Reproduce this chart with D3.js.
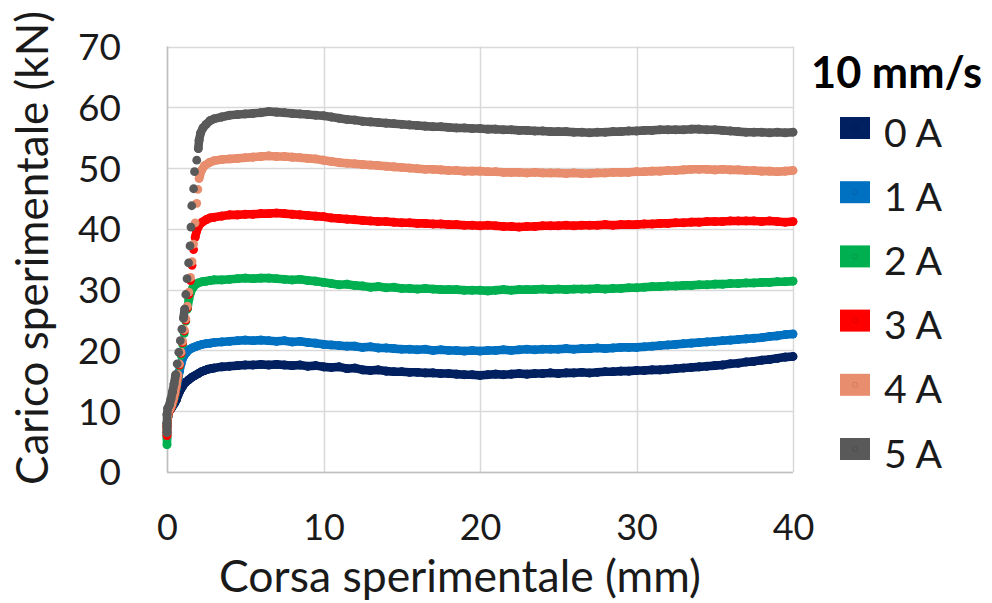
<!DOCTYPE html>
<html><head><meta charset="utf-8">
<script src="https://cdn.jsdelivr.net/npm/d3@7"></script>
<style>
html,body{margin:0;padding:0;background:#fff;}
svg{display:block;font-family:Lato,"Open Sans",sans-serif;}
</style></head>
<body>
<svg id="chart" width="992" height="603"></svg>
<script>
// ---- data ----
const seriesNames = ["0 A","1 A","2 A","3 A","4 A","5 A"];
const seriesColors = ["#002060","#0070C0","#00B050","#FF0000","#E88D6D","#595959"];
const legendTitle = "10 mm/s";
const xTicks = [0,10,20,30,40];
const yTicks = [0,10,20,30,40,50,60,70];
const xTitle = "Corsa sperimentale (mm)";
const yTitle = "Carico sperimentale (kN)";

// initial loading ramp, [corsa mm, carico kN]
const ramp0A = [[0,6.5],[0,8],[0.05,9],[0.1,9.8],[0.2,10.2],[0.3,10.6],[0.4,11],[0.5,11.4],[0.6,11.9],[0.7,12.6],[0.8,13.2],[0.9,13.7],[1.0,14.1],[1.2,14.8],[1.4,15.2],[1.6,15.6],[1.8,15.9],[2.0,16.2],[2.2,16.5],[2.4,16.7],[2.6,16.9],[2.8,17.0]];
const ramp1A = [[0,5.5],[0,7.5],[0.05,9],[0.1,9.8],[0.2,10.3],[0.3,10.8],[0.4,11.6],[0.5,12.6],[0.6,13.8],[0.7,15.2],[0.8,16.6],[0.9,17.8],[1.0,18.7],[1.1,19.2],[1.25,19.7],[1.4,20.1],[1.6,20.4],[1.8,20.6],[2.0,20.8],[2.25,21.0],[2.5,21.1],[2.75,21.2]];
const ramp2A = [[0,4.5],[0,6],[0,7.5],[0.05,9],[0.1,9.8],[0.2,10.3],[0.3,10.8],[0.4,11.6],[0.5,12.6],[0.6,14],[0.7,15.6],[0.8,17.4],[0.9,19.2],[1.0,21],[1.1,22.8],[1.2,24.8],[1.3,26.8],[1.4,28.4],[1.5,29.5],[1.65,30.3],[1.8,30.8],[2.0,31.1],[2.25,31.3],[2.5,31.4],[2.75,31.5]];
const ramp3A = [[0,6],[0,7.5],[0.05,9],[0.1,9.8],[0.2,10.3],[0.3,10.9],[0.4,11.8],[0.5,12.8],[0.6,14.2],[0.7,15.8],[0.8,17.6],[0.9,19.5],[1.0,21.3],[1.1,23.2],[1.2,25],[1.3,27],[1.4,29.2],[1.5,31.5],[1.6,34],[1.7,36.6],[1.8,38.6],[1.9,39.7],[2.05,40.6],[2.25,41.1],[2.5,41.5],[2.75,41.8]];
const ramp4A = [[0,6.5],[0,8],[0.05,9.3],[0.1,10],[0.2,10.5],[0.3,11.1],[0.4,12],[0.5,13],[0.6,14.4],[0.7,16],[0.8,17.8],[0.9,19.7],[1.0,21.5],[1.1,23.4],[1.2,25.2],[1.3,27.3],[1.4,29.6],[1.5,32],[1.6,34.6],[1.7,37.5],[1.8,41],[1.9,44.2],[1.97,46.5],[2.05,48.3],[2.2,49.6],[2.4,50.4],[2.7,50.9]];
const ramp5A = [[0,6.5],[0,8],[0,9.5],[0.05,10.5],[0.15,11],[0.25,12],[0.35,13.2],[0.45,14.5],[0.55,16],[0.65,17.8],[0.75,19.7],[0.85,21.6],[0.95,23.5],[1.05,25.3],[1.13,26.8],[1.2,29.2],[1.28,31.8],[1.38,34.4],[1.47,37.2],[1.53,40.3],[1.58,43.8],[1.7,46.6],[1.76,49.4],[1.9,51.3],[2.0,53.2],[2.05,54.6],[2.15,55.8],[2.3,56.6],[2.5,57.2],[2.75,57.8]];

// plateau: corsa (mm) shared, carico (kN) per series
const corsaPlateau = [3,3.5,4,4.5,5,5.5,6,6.5,7,7.5,8,8.5,9,9.5,10,10.5,11,11.5,12,12.5,13,13.5,14,14.5,15,15.5,16,16.5,17,17.5,18,18.5,19,19.5,20,20.5,21,21.5,22,22.5,23,23.5,24,24.5,25,25.5,26,26.5,27,27.5,28,28.5,29,29.5,30,30.5,31,31.5,32,32.5,33,33.5,34,34.5,35,35.5,36,36.5,37,37.5,38,38.5,39,39.5,40];
const carico0A = [17.1,17.3,17.4,17.5,17.6,17.6,17.7,17.6,17.7,17.6,17.5,17.6,17.4,17.5,17.3,17.2,17.3,17.0,17.1,16.8,16.7,16.8,16.6,16.5,16.5,16.4,16.4,16.3,16.3,16.2,16.2,16.1,16.0,16.0,15.9,16.0,16.1,16.0,16.1,16.2,16.1,16.2,16.2,16.3,16.2,16.3,16.3,16.4,16.3,16.4,16.5,16.5,16.6,16.6,16.7,16.7,16.8,16.8,16.9,17.0,17.1,17.2,17.3,17.4,17.5,17.6,17.8,17.9,18.1,18.2,18.4,18.5,18.7,18.9,19.0];
const carico1A = [21.3,21.4,21.5,21.6,21.7,21.6,21.7,21.6,21.5,21.6,21.4,21.5,21.3,21.2,21.0,20.9,20.8,20.7,20.7,20.5,20.6,20.4,20.4,20.3,20.2,20.2,20.1,20.2,20.0,20.1,20.0,20.0,19.9,20.0,19.9,20.0,20.0,20.1,20.0,20.1,20.2,20.1,20.2,20.2,20.2,20.3,20.2,20.3,20.3,20.4,20.3,20.4,20.5,20.5,20.5,20.6,20.7,20.8,20.9,21.0,21.1,21.2,21.3,21.4,21.5,21.6,21.7,21.8,21.9,22.0,22.1,22.3,22.4,22.6,22.7];
const carico2A = [31.6,31.6,31.7,31.8,31.9,31.8,31.9,31.9,31.8,31.7,31.6,31.7,31.5,31.4,31.2,31.0,30.8,30.9,30.7,30.6,30.4,30.5,30.3,30.4,30.2,30.2,30.1,30.2,30.1,30.0,30.0,30.0,29.9,29.9,29.9,29.8,29.9,30.0,29.9,30.0,30.0,30.0,30.1,30.0,30.1,30.0,30.1,30.1,30.1,30.2,30.1,30.2,30.2,30.3,30.3,30.4,30.5,30.5,30.6,30.6,30.7,30.7,30.8,30.8,30.9,30.9,31.0,31.0,31.1,31.1,31.2,31.2,31.3,31.3,31.4];
const carico3A = [41.9,42.1,42.3,42.3,42.4,42.4,42.5,42.5,42.6,42.5,42.4,42.3,42.2,42.1,42.0,41.8,41.7,41.6,41.5,41.4,41.3,41.2,41.2,41.1,41.0,41.0,40.9,40.9,40.8,40.8,40.7,40.7,40.6,40.6,40.5,40.6,40.5,40.4,40.4,40.3,40.4,40.4,40.5,40.5,40.5,40.6,40.5,40.6,40.6,40.6,40.7,40.6,40.7,40.7,40.7,40.8,40.8,40.9,40.9,41.0,41.0,41.1,41.1,41.2,41.2,41.2,41.3,41.3,41.3,41.3,41.2,41.3,41.2,41.1,41.2];
const carico4A = [51.2,51.4,51.5,51.6,51.7,51.8,51.9,52.0,51.9,51.9,51.8,51.7,51.6,51.5,51.3,51.1,50.9,50.8,50.7,50.6,50.5,50.4,50.3,50.2,50.1,50.0,49.9,49.8,49.8,49.7,49.6,49.6,49.5,49.5,49.5,49.4,49.4,49.3,49.3,49.3,49.2,49.3,49.2,49.2,49.2,49.1,49.2,49.1,49.1,49.2,49.2,49.3,49.3,49.3,49.4,49.4,49.5,49.5,49.6,49.6,49.7,49.8,49.8,49.8,49.7,49.8,49.7,49.7,49.6,49.6,49.5,49.5,49.4,49.5,49.6];
const carico5A = [58.1,58.4,58.7,58.8,58.9,59.0,59.1,59.3,59.2,59.1,59.0,58.9,58.8,58.7,58.6,58.4,58.2,58.0,57.9,57.7,57.6,57.5,57.4,57.3,57.2,57.1,57.0,56.9,56.8,56.8,56.7,56.6,56.6,56.5,56.5,56.4,56.4,56.3,56.3,56.2,56.2,56.1,56.1,56.0,56.0,56.0,55.9,55.9,55.8,55.9,55.9,56.0,56.0,56.1,56.1,56.2,56.2,56.3,56.3,56.3,56.3,56.4,56.4,56.3,56.3,56.2,56.1,56.0,55.9,55.9,55.9,55.8,55.9,55.8,55.9];

const ramps = [ramp0A, ramp1A, ramp2A, ramp3A, ramp4A, ramp5A];
const plateaus = [carico0A, carico1A, carico2A, carico3A, carico4A, carico5A];

// ---- chart ----
const svg = d3.select("#chart");
const x = d3.scaleLinear().domain([0, 40]).range([167, 793]);
const y = d3.scaleLinear().domain([0, 70]).range([472, 46.5]);
const gridColor = "#d9d9d9";
const textColor = "#1a1a1a";

function fitFont(sel, target) {
  const fs = parseFloat(sel.attr("font-size"));
  const w = sel.node().getComputedTextLength();
  sel.attr("font-size", (fs * target / w).toFixed(2));
}

// gridlines
const grid = svg.append("g");
grid.selectAll("line.h").data(yTicks).join("line")
  .attr("x1", x(0)).attr("x2", x(40))
  .attr("y1", d => Math.round(y(d)) + 0.5).attr("y2", d => Math.round(y(d)) + 0.5)
  .attr("stroke", gridColor).attr("stroke-width", 1.5);
grid.selectAll("line.v").data(xTicks).join("line")
  .attr("y1", y(0)).attr("y2", y(70))
  .attr("x1", d => Math.round(x(d)) + 0.5).attr("x2", d => Math.round(x(d)) + 0.5)
  .attr("stroke", gridColor).attr("stroke-width", 1.5);
svg.append("line").attr("x1", x(0)).attr("x2", x(40)).attr("y1", Math.round(y(0))+0.5).attr("y2", Math.round(y(0))+0.5)
  .attr("stroke", "#bfbfbf").attr("stroke-width", 1.5);
svg.append("line").attr("x1", Math.round(x(0))+0.5).attr("x2", Math.round(x(0))+0.5).attr("y1", y(0)).attr("y2", y(70))
  .attr("stroke", "#bfbfbf").attr("stroke-width", 1.5);

// x-axis title first: sit it as low as the picture allows
const xt = svg.append("text").attr("x", 460).attr("y", 590).attr("text-anchor", "middle")
  .attr("font-size", 44).attr("fill", textColor).text(xTitle);
fitFont(xt, 482);
let titleTop;
{
  const b = xt.node().getBBox();
  const desc = b.y + b.height - 590, asc = 590 - b.y;
  const base = Math.min(592, 602.5 - desc);
  xt.attr("y", base);
  titleTop = base - asc;
}

// axes (labels only)
const xAxis = d3.axisBottom(x).tickValues(xTicks).tickSize(0).tickPadding(0).tickFormat(d3.format("d"));
const gx = svg.append("g").call(xAxis);
gx.select(".domain").remove();
gx.selectAll("text").attr("dy", 0).attr("font-size", 36).attr("fill", textColor)
  .attr("font-family", "Lato, 'Open Sans', sans-serif");
{
  const b = gx.select("text").node().getBBox();
  const desc = b.y + b.height; // below baseline (group at 0)
  const base = Math.min(546, titleTop - desc - 0.5);
  gx.attr("transform", `translate(0,${base})`);
}

const yAxis = d3.axisLeft(y).tickValues(yTicks).tickSize(0).tickPadding(0).tickFormat(d3.format("d"));
const gy = svg.append("g").attr("transform", "translate(121,0)").call(yAxis);
gy.select(".domain").remove();
gy.selectAll("text").attr("dy", "0.35em").attr("font-size", 37).attr("fill", textColor)
  .attr("font-family", "Lato, 'Open Sans', sans-serif");

const yt = svg.append("text").attr("transform", "translate(48,248) rotate(-90)").attr("text-anchor", "middle")
  .attr("font-size", 44).attr("fill", textColor).text(yTitle);
fitFont(yt, 474);

// series
const plot = svg.append("g");
seriesNames.forEach((name, i) => {
  const pts = ramps[i].concat(corsaPlateau.map((c, k) => [c, plateaus[i][k]]));
  const g = plot.append("g");
  // join neighbouring points whose dots overlap, so dense runs read as a band
  const segs = [];
  for (let k = 1; k < pts.length; k++) {
    const dx = x(pts[k][0]) - x(pts[k-1][0]), dy = y(pts[k][1]) - y(pts[k-1][1]);
    if (Math.hypot(dx, dy) <= 10) segs.push([pts[k-1], pts[k]]);
  }
  g.selectAll("line").data(segs).join("line")
    .attr("x1", d => x(d[0][0])).attr("y1", d => y(d[0][1]))
    .attr("x2", d => x(d[1][0])).attr("y2", d => y(d[1][1]))
    .attr("stroke", seriesColors[i]).attr("stroke-width", 8.6).attr("stroke-linecap", "round");
  g.selectAll("circle").data(pts).join("circle")
    .attr("cx", d => x(d[0])).attr("cy", d => y(d[1])).attr("r", 4.4)
    .attr("fill", seriesColors[i]);
});

// legend
const lt = svg.append("text").attr("x", 811).attr("y", 88).attr("font-weight", "bold")
  .attr("font-size", 38).attr("fill", "#000").text(legendTitle);
fitFont(lt, 171);
const legend = svg.append("g");
const rowY = d => 128 + d * 64.2;
let legendFont = 37;
seriesNames.forEach((name, i) => {
  legend.append("rect").attr("x", 840).attr("y", rowY(i) - 11).attr("width", 30).attr("height", 22)
    .attr("fill", seriesColors[i]);
  legend.append("circle").attr("cx", 855).attr("cy", rowY(i)).attr("r", 2.5)
    .attr("fill", "none").attr("stroke", d3.color(seriesColors[i]).darker(0.6)).attr("stroke-width", 0.6);
  const t = legend.append("text").attr("x", 884).attr("y", rowY(i) + 18.5)
    .attr("font-size", legendFont).attr("fill", textColor).text(name);
  if (i === 0) { fitFont(t, 58); legendFont = t.attr("font-size"); }
});
</script>
</body></html>
